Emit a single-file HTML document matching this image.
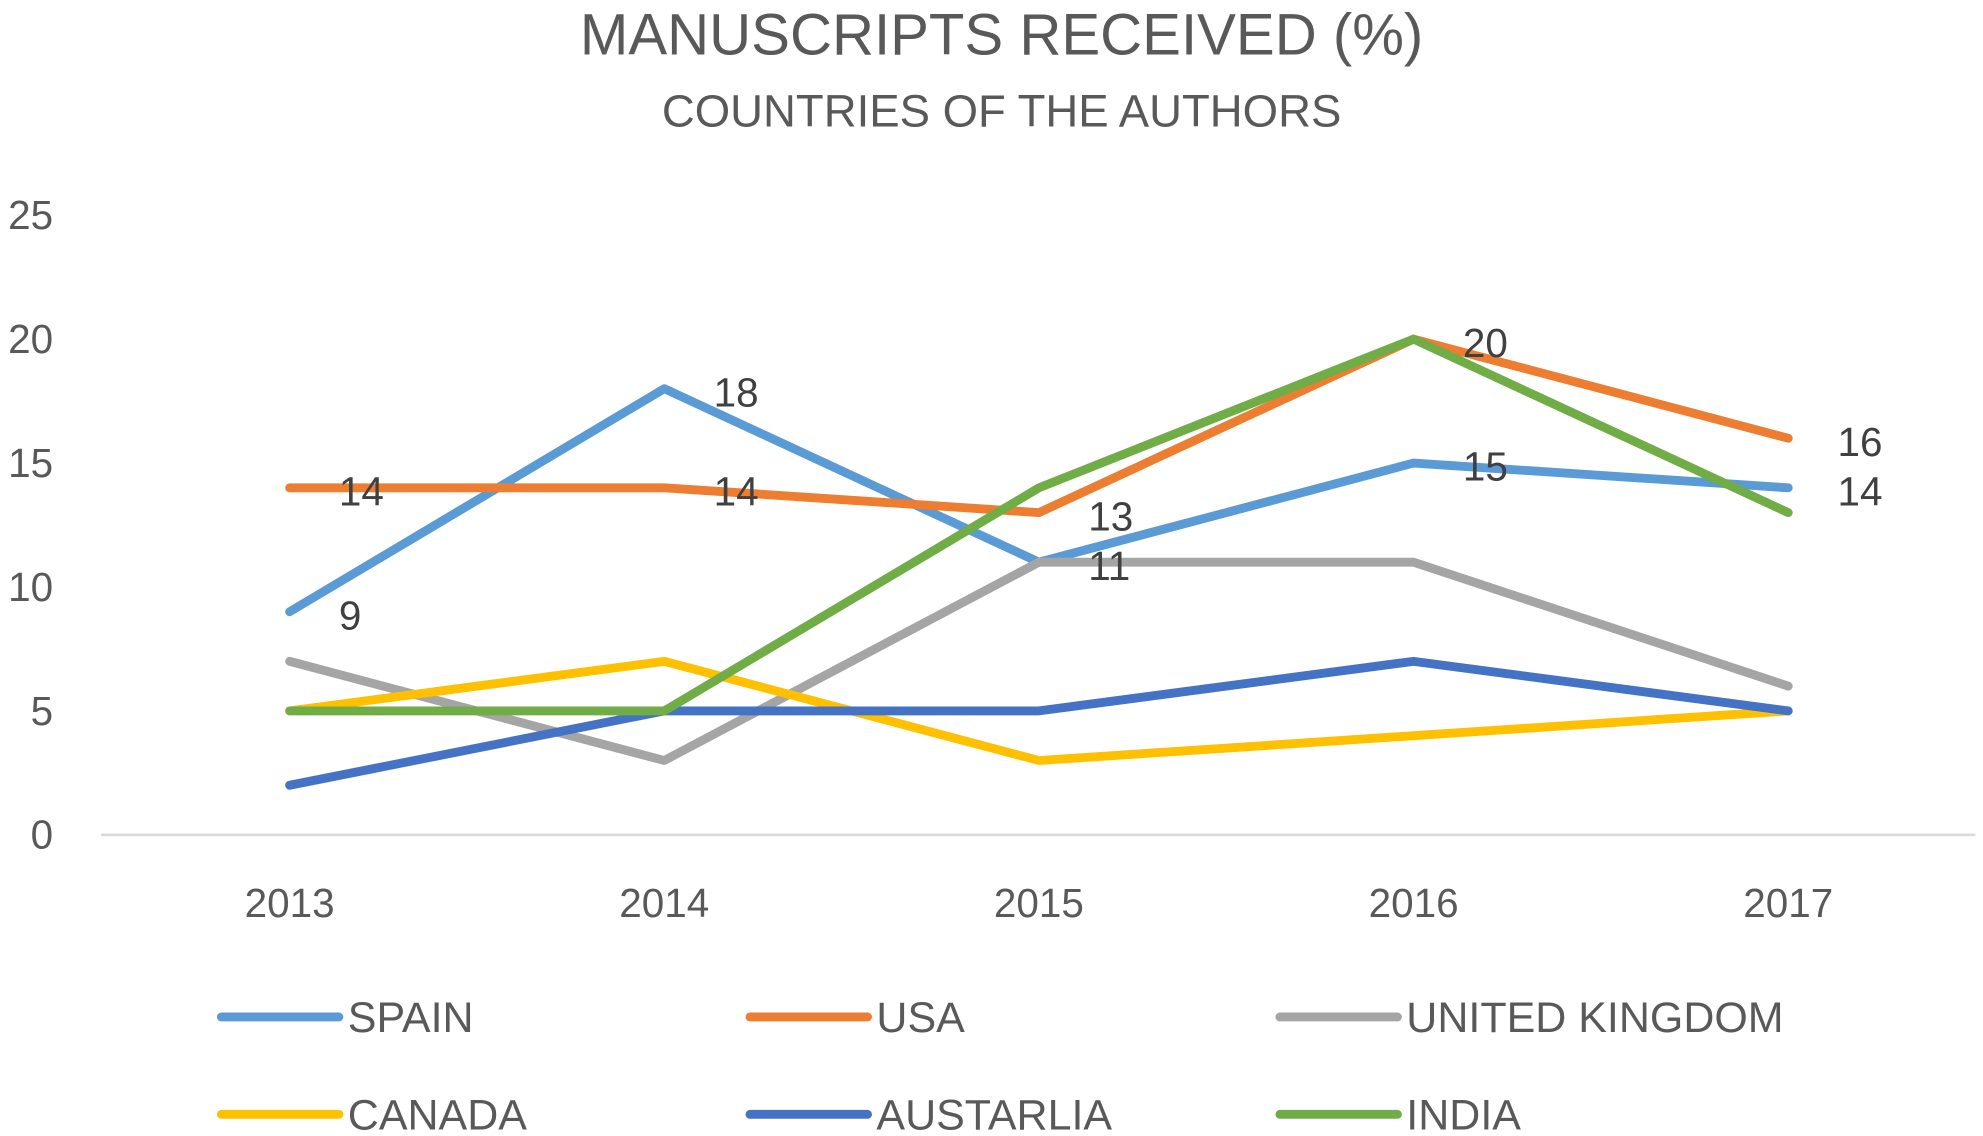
<!DOCTYPE html>
<html><head><meta charset="utf-8"><style>
html,body{margin:0;padding:0;background:#fff;}
svg{display:block;font-family:"Liberation Sans",sans-serif;}
</style></head><body>
<svg id="chart" width="1983" height="1136" viewBox="0 0 1568 898" xmlns="http://www.w3.org/2000/svg">
<text x="792" y="43" font-size="46" fill="#595959" text-anchor="middle">MANUSCRIPTS RECEIVED (%)</text>
<text x="792" y="100" font-size="36" fill="#595959" text-anchor="middle">COUNTRIES OF THE AUTHORS</text>
<g id="axes"></g><g id="series"></g><g id="labels"></g><g id="legend"></g>
</svg>
<script>
const years = ["2013","2014","2015","2016","2017"];
const yTicks = [0,5,10,15,20,25];
const spain = [9,18,11,15,14];
const usa = [14,14,13,20,16];
const uk = [7,3,11,11,6];
const canada = [5,7,3,4,5];
const australia = [2,5,5,7,5];
const india = [5,5,14,20,13];
const seriesNames = ["SPAIN","USA","UNITED KINGDOM","CANADA","AUSTARLIA","INDIA"];
const seriesData = [spain,usa,uk,canada,australia,india];
const colors = ["#5B9BD5","#ED7D31","#A5A5A5","#FFC000","#4472C4","#70AD47"];
const labeled = [true,true,false,false,false,false];

const NS="http://www.w3.org/2000/svg";
function xPos(i){return 229+i*296.25;}
function yPos(v){return 660-v*19.6;}
function mk(tag,attrs,parent,txt){const e=document.createElementNS(NS,tag);for(const k in attrs)e.setAttribute(k,attrs[k]);if(txt!==undefined)e.textContent=txt;parent.appendChild(e);return e;}
const axes=document.getElementById('axes');
let ax=mk('line',{x1:80,x2:1562,y1:yPos(0),y2:yPos(0),stroke:"#D9D9D9","stroke-width":2},axes);


yTicks.forEach(t=>{
  const e=mk('text',{x:42,y:yPos(t)+11,"font-size":32,fill:"#595959","text-anchor":"end"},axes,String(t));
  
  
});
years.forEach((y,i)=>{
  const e=mk('text',{x:xPos(i),y:725,"font-size":32,fill:"#595959","text-anchor":"middle"},axes,y);
  
  
});
const sg=document.getElementById('series'), lg=document.getElementById('labels');
seriesData.forEach((d,s)=>{
  const pts=d.map((v,i)=>xPos(i)+","+yPos(v)).join(" ");
  const p=mk('polyline',{points:pts,fill:"none",stroke:colors[s],"stroke-width":7,"stroke-linejoin":"round","stroke-linecap":"round"},sg);
  
  
  if(labeled[s]) d.forEach((v,i)=>{
    const t=mk('text',{x:xPos(i)+39,y:yPos(v)+14,"font-size":32,fill:"#404040"},lg,String(v));
    
    
  });
});
const leg=document.getElementById('legend');
const lx=[175,593,1012], ly=[804,881];
seriesNames.forEach((n,s)=>{
  const x=lx[s%3], y=ly[Math.floor(s/3)];
  const g=mk('g',{},leg);
  
  
  mk('line',{x1:x,x2:x+93,y1:y,y2:y,stroke:colors[s],"stroke-width":7,"stroke-linecap":"round"},g);
  mk('text',{x:x+100,y:y+12,"font-size":34,fill:"#595959"},g,n);
});
</script>
</body></html>
